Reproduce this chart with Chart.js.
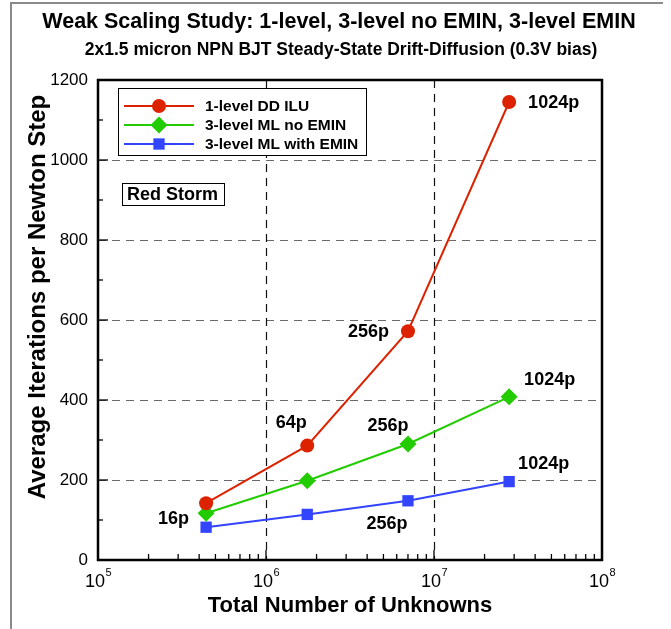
<!DOCTYPE html>
<html>
<head>
<meta charset="utf-8">
<title>Weak Scaling Study</title>
<script src="https://cdn.jsdelivr.net/npm/chart.js@4"></script>
<style>
  body { margin: 0; background: #fff; }
  #wrap { width: 671px; height: 629px; }
</style>
</head>
<body>
<div id="wrap"><canvas id="chart" width="671" height="629"></canvas></div>
<script>
// total unknowns for 16p, 64p, 256p, 1024p runs
const unknowns = [4.4e5, 1.76e6, 7.0e6, 2.8e7];
const itersDD = [142, 286, 572, 1145];
const itersNoEmin = [117, 198, 290, 408];
const itersEmin = [82, 114, 148, 196];

const seriesNames = ['1-level DD ILU', '3-level ML no EMIN', '3-level ML with EMIN'];
const seriesColors = ['#dd2200', '#22cc00', '#3344ff'];
const yTicks = [0, 200, 400, 600, 800, 1000, 1200];
const xDecades = [5, 6, 7, 8];

// processor-count labels: [series, point, text]
const procLabels = [
  [0, 3, '1024p'], [0, 2, '256p'], [0, 1, '64p'],
  [1, 3, '1024p'], [1, 2, '256p'], [1, 0, '16p'],
  [2, 3, '1024p'], [2, 2, '256p']
];
// offset of each label from its point (px) and text alignment
const procLabelPlace = [
  [19, 1, 'left'], [-19, 1, 'right'], [-16, -23, 'center'],
  [15, -17, 'left'], [-20, -18, 'center'], [-17, 6, 'right'],
  [9, -18, 'left'], [-21, 23, 'center']
];

const FAM = '"Liberation Sans", Arial, Helvetica, sans-serif';
const pointStyles = [
  { pointStyle: 'circle', radius: 7 },
  { pointStyle: 'rectRot', radius: 8.5 },
  { pointStyle: 'rect', radius: 8 }
];

function pts(ys) {
  return unknowns.map((u, i) => ({ x: u, y: ys[i] }));
}

function seg(ctx, x1, y1, x2, y2) {
  ctx.beginPath();
  ctx.moveTo(x1, y1);
  ctx.lineTo(x2, y2);
  ctx.stroke();
}

const decor = {
  id: 'decor',
  beforeDatasetsDraw(chart) {
    const { ctx, chartArea: a, scales: { x, y } } = chart;
    ctx.save();
    ctx.lineWidth = 1.2;
    ctx.setLineDash([8, 6]);
    ctx.strokeStyle = '#6a6a6a';
    yTicks.slice(1, -1).forEach(v => {
      const py = Math.round(y.getPixelForValue(v)) + 0.5;
      seg(ctx, a.left, py, a.right, py);
    });
    ctx.strokeStyle = '#111';
    xDecades.slice(1, -1).forEach(d => {
      const px = Math.round(x.getPixelForValue(Math.pow(10, d))) + 0.5;
      seg(ctx, px, a.top, px, a.bottom);
    });
    ctx.setLineDash([]);

    // inward ticks on left and bottom
    ctx.strokeStyle = '#000';
    ctx.lineWidth = 1.3;
    for (let v = 0; v <= 1200; v += 100) {
      const py = y.getPixelForValue(v);
      seg(ctx, a.left, py, a.left + (v % 200 === 0 ? 10 : 5), py);
    }
    xDecades.slice(0, -1).forEach(d => {
      for (let m = 1; m < 10; m++) {
        const px = x.getPixelForValue(m * Math.pow(10, d));
        seg(ctx, px, a.bottom, px, a.bottom - (m === 1 ? 10 : 6));
      }
    });
    ctx.restore();
  },
  afterDraw(chart) {
    const { ctx, chartArea: a, scales: { x, y } } = chart;
    ctx.save();

    // page frame
    ctx.strokeStyle = '#8a8a8a';
    ctx.lineWidth = 2;
    ctx.beginPath();
    ctx.moveTo(11, 629);
    ctx.lineTo(11, 3);
    ctx.lineTo(663, 3);
    ctx.stroke();

    // plot border
    ctx.strokeStyle = '#000';
    ctx.lineWidth = 2.5;
    ctx.strokeRect(a.left, a.top, a.right - a.left, a.bottom - a.top);

    ctx.fillStyle = '#000';
    ctx.textBaseline = 'middle';

    // y tick labels
    ctx.font = '17px ' + FAM;
    ctx.textAlign = 'right';
    yTicks.forEach(v => ctx.fillText(String(v), a.left - 10, y.getPixelForValue(v)));

    // x tick labels with superscript exponents
    xDecades.forEach(d => {
      const px = x.getPixelForValue(Math.pow(10, d));
      ctx.font = '18px ' + FAM;
      const wb = ctx.measureText('10').width;
      ctx.font = '11px ' + FAM;
      const we = ctx.measureText(String(d)).width;
      const left = px - (wb + we) / 2;
      ctx.textAlign = 'left';
      ctx.font = '18px ' + FAM;
      ctx.fillText('10', left, a.bottom + 22);
      ctx.font = '11px ' + FAM;
      ctx.fillText(String(d), left + wb + 0.5, a.bottom + 13);
    });

    // titles
    ctx.textAlign = 'center';
    ctx.font = 'bold 21.5px ' + FAM;
    ctx.fillText('Weak Scaling Study: 1-level, 3-level no EMIN, 3-level EMIN', 339, 22);
    ctx.font = 'bold 17.5px ' + FAM;
    ctx.fillText('2x1.5 micron NPN BJT Steady-State Drift-Diffusion (0.3V bias)', 341, 50);

    ctx.font = 'bold 22px ' + FAM;
    ctx.fillText('Total Number of Unknowns', 350, 606);
    ctx.save();
    ctx.translate(38, 297);
    ctx.rotate(-Math.PI / 2);
    ctx.font = 'bold 24px ' + FAM;
    ctx.fillText('Average Iterations per Newton Step', 0, 0);
    ctx.restore();

    // processor count annotations
    ctx.font = 'bold 18px ' + FAM;
    procLabels.forEach(([s, i, txt], k) => {
      const [dx, dy, align] = procLabelPlace[k];
      const el = chart.getDatasetMeta(s).data[i];
      ctx.textAlign = align;
      ctx.fillText(txt, el.x + dx, el.y + dy);
    });

    // legend box
    ctx.lineWidth = 1;
    ctx.strokeStyle = '#000';
    ctx.fillStyle = '#fff';
    ctx.fillRect(118.5, 88.5, 248, 67);
    ctx.strokeRect(118.5, 88.5, 248, 67);
    ctx.font = 'bold 15.5px ' + FAM;
    ctx.textAlign = 'left';
    const rows = [106, 125, 144];
    seriesNames.forEach((name, k) => {
      const ry = rows[k];
      ctx.strokeStyle = seriesColors[k];
      ctx.lineWidth = 2;
      seg(ctx, 124, ry, 194, ry);
      ctx.fillStyle = seriesColors[k];
      Chart.helpers.drawPoint(ctx, {
        pointStyle: pointStyles[k].pointStyle,
        radius: pointStyles[k].radius,
        rotation: 0,
        borderWidth: 0
      }, 159, ry);
      ctx.fillStyle = '#000';
      ctx.fillText(name, 205, ry + 1);
    });

    // machine tag
    ctx.fillStyle = '#fff';
    ctx.fillRect(122.5, 183.5, 102, 22);
    ctx.strokeStyle = '#000';
    ctx.lineWidth = 1;
    ctx.strokeRect(122.5, 183.5, 102, 22);
    ctx.fillStyle = '#000';
    ctx.font = 'bold 18px ' + FAM;
    ctx.fillText('Red Storm', 127, 195);

    ctx.restore();
  }
};

const datasets = [itersDD, itersNoEmin, itersEmin].map((ys, k) => ({
  label: seriesNames[k],
  data: pts(ys),
  showLine: true,
  borderColor: seriesColors[k],
  backgroundColor: seriesColors[k],
  borderWidth: 2,
  pointStyle: pointStyles[k].pointStyle,
  pointRadius: pointStyles[k].radius,
  pointBorderWidth: 0,
  pointBackgroundColor: seriesColors[k]
}));

new Chart(document.getElementById('chart'), {
  type: 'scatter',
  data: { datasets },
  options: {
    responsive: false,
    animation: false,
    layout: { padding: { left: 98, top: 80, right: 69, bottom: 69 } },
    plugins: { legend: { display: false }, tooltip: { enabled: false } },
    scales: {
      x: { type: 'logarithmic', min: 1e5, max: 1e8, display: false },
      y: { type: 'linear', min: 0, max: 1200, display: false }
    }
  },
  plugins: [decor]
});
</script>
</body>
</html>
